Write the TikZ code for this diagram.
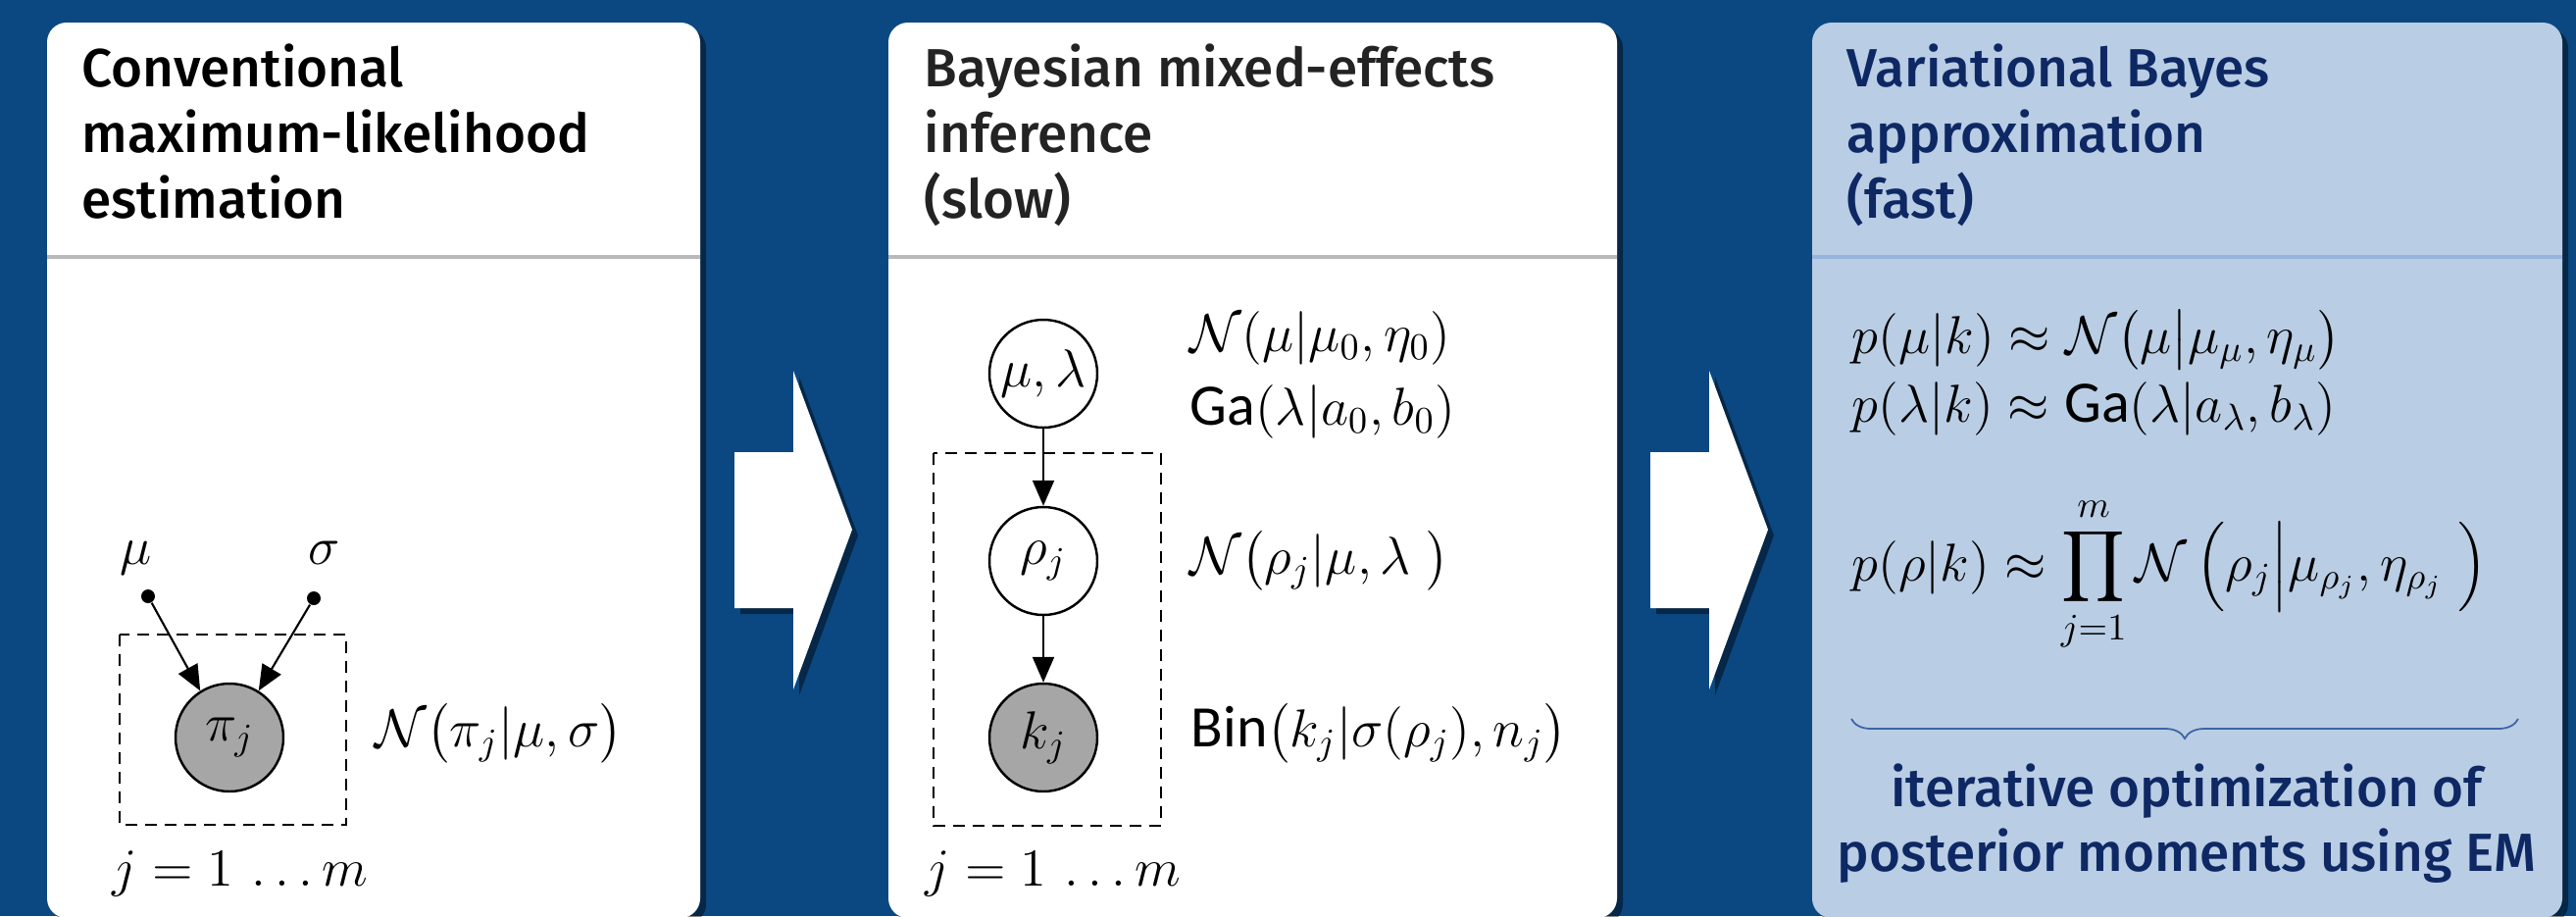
\RequirePackage{fix-cm}
\documentclass[tikz,border=0pt]{standalone}
\usepackage{amsmath}
\usepackage{fontspec}
\setmainfont{Fira Sans}[BoldFont={Fira Sans Medium}]
\newfontfamily\distfont{Carlito}[Scale=1.1]
\newcommand{\distname}[1]{\text{\distfont #1}}
\usetikzlibrary{arrows.meta,shadows,decorations.pathreplacing,positioning}

\definecolor{bgblue}{RGB}{11,72,130}
\definecolor{vbfill}{RGB}{185,205,228}
\definecolor{vbnavy}{RGB}{14,40,100}
\definecolor{vbline}{RGB}{150,180,220}
\definecolor{bracecol}{RGB}{60,100,165}
\definecolor{obsgray}{RGB}{166,166,166}
\definecolor{darktext}{RGB}{35,35,35}

\begin{document}
\begin{tikzpicture}[
        x=0.1mm, y=-0.1mm,
        panel/.style={rounded corners=2mm, drop shadow={shadow xshift=0.6mm, shadow yshift=-0.6mm, opacity=0.45, fill=black}},
        divider/.style={line width=0.35mm, draw=gray!55},
        head/.style={anchor=base west, inner sep=0, font=\fontsize{15.6}{19}\selectfont\bfseries},
        formula/.style={anchor=base west, inner sep=0, font=\fontsize{15.5}{19}\selectfont},
        rv/.style={circle, draw=black, fill=white, line width=0.7pt, minimum size=11mm, inner sep=0, font=\fontsize{15.5}{19}\selectfont},
        obs/.style={rv, fill=obsgray},
        dot/.style={circle, fill=black, minimum size=1.4mm, inner sep=0},
        plate/.style={draw=black, line width=0.6pt, dash pattern=on 1.2mm off 0.8mm},
        edge/.style={line width=0.6pt, -{Triangle[length=2.6mm, width=2.2mm]}},
        blockarrow/.style={fill=white, drop shadow={shadow xshift=0.6mm, shadow yshift=-0.6mm, opacity=0.45, fill=black}},
        brace/.style={decorate, decoration={brace, mirror, amplitude=2mm}, draw=bracecol, line width=0.5pt}
    ]
        \useasboundingbox (0,0) rectangle (2627,934);
        \fill[bgblue] (0,0) rectangle (2627,934);

        % panels
        \fill[panel, fill=white] (48,23) rectangle (714,936);
        \fill[panel, fill=white] (906,23) rectangle (1649,936);
        \fill[panel, fill=vbfill] (1848,23) rectangle (2613,936);
        \draw[divider] (48,262) -- (714,262);
        \draw[divider] (906,262) -- (1649,262);
        \draw[divider, draw=vbline] (1848,262) -- (2613,262);

        % block arrows between panels
        \fill[blockarrow] (749,461) -- (809,461) -- (809,378) -- (869,540) -- (809,703) -- (809,620) -- (749,620) -- cycle;
        \fill[blockarrow] (1683,461) -- (1743,461) -- (1743,378) -- (1803,540) -- (1743,703) -- (1743,620) -- (1683,620) -- cycle;

        % headers
        \node[head] (mlhead1) at (83,88) {Conventional};
        \node[head] (mlhead2) at (83,155) {maximum-likelihood};
        \node[head] (mlhead3) at (83,222) {estimation};
        \node[head, text=darktext] (bmhead1) at (942,88) {Bayesian mixed-effects};
        \node[head, text=darktext] (bmhead2) at (942,155) {inference};
        \node[head, text=darktext] (bmhead3) at (942,222) {(slow)};
        \node[head, text=vbnavy] (vbhead1) at (1883,88) {Variational Bayes};
        \node[head, text=vbnavy] (vbhead2) at (1883,155) {approximation};
        \node[head, text=vbnavy] (vbhead3) at (1883,222) {(fast)};

        % maximum likelihood model
        \node[formula, anchor=base] (mulab) at (139,575) {$\mu$};
        \node[formula, anchor=base] (siglab) at (331,575) {$\sigma$};
        \node[dot] (mudot) at (151,608) {};
        \node[dot] (sigdot) at (320,610) {};
        \node[obs] (pij) at (234,752) {$\pi_j$};
        \draw[edge] (mudot) -- (pij.122);
        \draw[edge] (sigdot) -- (pij.58);
        \draw[plate] (122,647) rectangle (353,841);
        \node[formula] (pilik) at (382,761) {$\mathcal{N}\bigl(\pi_j|\mu,\sigma\bigr)$};
        \node[formula, anchor=base] (range1) at (245,903) {$j=1\,\ldots m$};

        % Bayesian mixed-effects model
        \node[rv] (mulam) at (1064,381) {$\mu,\lambda$};
        \node[rv] (rhoj) at (1064,572) {$\rho_j$};
        \node[obs] (kj) at (1064,752) {$k_j$};
        \draw[edge] (mulam) -- (rhoj);
        \draw[edge] (rhoj) -- (kj);
        \draw[plate] (952,462) rectangle (1184,842);
        \node[formula] (muprior) at (1213,358) {$\mathcal{N}(\mu|\mu_0,\eta_0)$};
        \node[formula] (lamprior) at (1213,433) {$\distname{Ga}(\lambda|a_0,b_0)$};
        \node[formula] (rholik) at (1213,585) {$\mathcal{N}\bigl(\rho_j|\mu,\lambda\;\bigr)$};
        \node[formula] (klik) at (1214,761) {$\distname{Bin}\bigl(k_j|\sigma(\rho_j),n_j\bigr)$};
        \node[formula, anchor=base] (range2) at (1074,903) {$j=1\,\ldots m$};

        % variational approximation
        \node[formula] (qmu) at (1888,360) {$p(\mu|k)\approx\mathcal{N}\bigl(\mu\big|\mu_\mu,\eta_\mu\bigr)$};
        \node[formula] (qlam) at (1888,430) {$p(\lambda|k)\approx\distname{Ga}(\lambda|a_\lambda,b_\lambda)$};
        \node[formula] (qrho) at (1888,592) {$p(\rho|k)\approx\displaystyle\prod_{j=1}^{m}\mathcal{N}\,\Bigl(\rho_j\Big|\mu_{\rho_j},\eta_{\rho_j}\;\Bigr)$};
        \draw[brace] (1888,733) -- (2568,733);
        \node[head, anchor=base, text=vbnavy] (em1) at (2230,822) {iterative optimization of};
        \node[head, anchor=base, text=vbnavy] (em2) at (2230,888) {posterior moments using EM};
    \end{tikzpicture}
\end{document}
